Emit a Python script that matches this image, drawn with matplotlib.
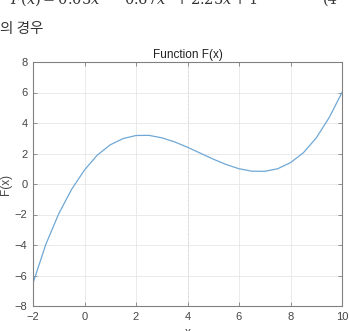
import numpy as np
import matplotlib
matplotlib.use("Agg")
import matplotlib.pyplot as plt

# valeurs (pas de 0.5)
x_vals = [-2.0, -1.5, -1.0, -0.5, 0.0, 0.5, 1.0, 1.5, 2.0, 2.5, 3.0, 3.5, 4.0,
          4.5, 5.0, 5.5, 6.0, 6.5, 7.0, 7.5, 8.0, 8.5, 9.0, 9.5, 10.0]
f_vals = [-6.5, -3.95, -1.95, -0.35, 0.92, 1.9, 2.57, 2.98, 3.18, 3.19, 3.03, 2.76, 2.41,
          2.02, 1.63, 1.28, 1.0, 0.84, 0.83, 1.0, 1.4, 2.05, 3.02, 4.35, 6.0]

x_ticks = [-2, 0, 2, 4, 6, 8, 10]
y_ticks = [-8, -6, -4, -2, 0, 2, 4, 6, 8]

GRAY = "#808080"
LABEL = "#454545"
SANS = ["Liberation Sans", "DejaVu Sans"]

fig = plt.figure(figsize=(3.49, 3.31), dpi=100)

# texte du document autour de la figure (coupé en haut)
fig.text(0.03, 1 - 4 / 331, r"$F(x) = 0.05x^3 - 0.67x^2 + 2.25x + 1$",
         fontsize=10.5, color="#333333", va="baseline", ha="left",
         math_fontfamily="dejavuserif")
fig.text(0.925, 1 - 4 / 331, "(4", fontsize=10.5, color="#333333",
         va="baseline", ha="left", family="DejaVu Serif")
fig.text(0.0, 1 - 29 / 331, "의 경우", fontsize=10.5, color="#333333",
         va="center", ha="left", family=["Noto Sans CJK KR", "DejaVu Sans"])

ax = fig.add_axes([33 / 349, 1 - 306 / 331, (342 - 33) / 349, (306 - 62) / 331])

ax.plot(x_vals, f_vals, color="#6fa8d6", linewidth=0.9)
ax.axvline(4, color="#9a9a9a", linestyle=(0, (3, 2)), linewidth=0.6, zorder=0)

ax.set_xlim(-2, 10)
ax.set_ylim(-8, 8)
ax.set_xticks(x_ticks)
ax.set_yticks(y_ticks)
ax.grid(True, color="#e6e6e6", linewidth=0.6)
ax.set_axisbelow(True)

for s in ax.spines.values():
    s.set_color(GRAY)
    s.set_linewidth(0.8)
ax.tick_params(direction="in", length=3, width=0.6, colors=GRAY,
               labelcolor=LABEL, labelsize=8, top=True, right=True, pad=4)
for lbl in ax.get_xticklabels() + ax.get_yticklabels():
    lbl.set_family(SANS)

ax.set_title("Function F(x)", fontsize=8.5, color="#202020", pad=3, family=SANS)
ax.set_ylabel("F(x)", fontsize=8.5, color=LABEL, family=SANS)
ax.yaxis.set_label_coords(-(33 - 12) / 309, 0.5)
ax.set_xlabel("x", fontsize=8.5, color=LABEL, labelpad=4, family=SANS)

fig.savefig("out.png", dpi=100)
